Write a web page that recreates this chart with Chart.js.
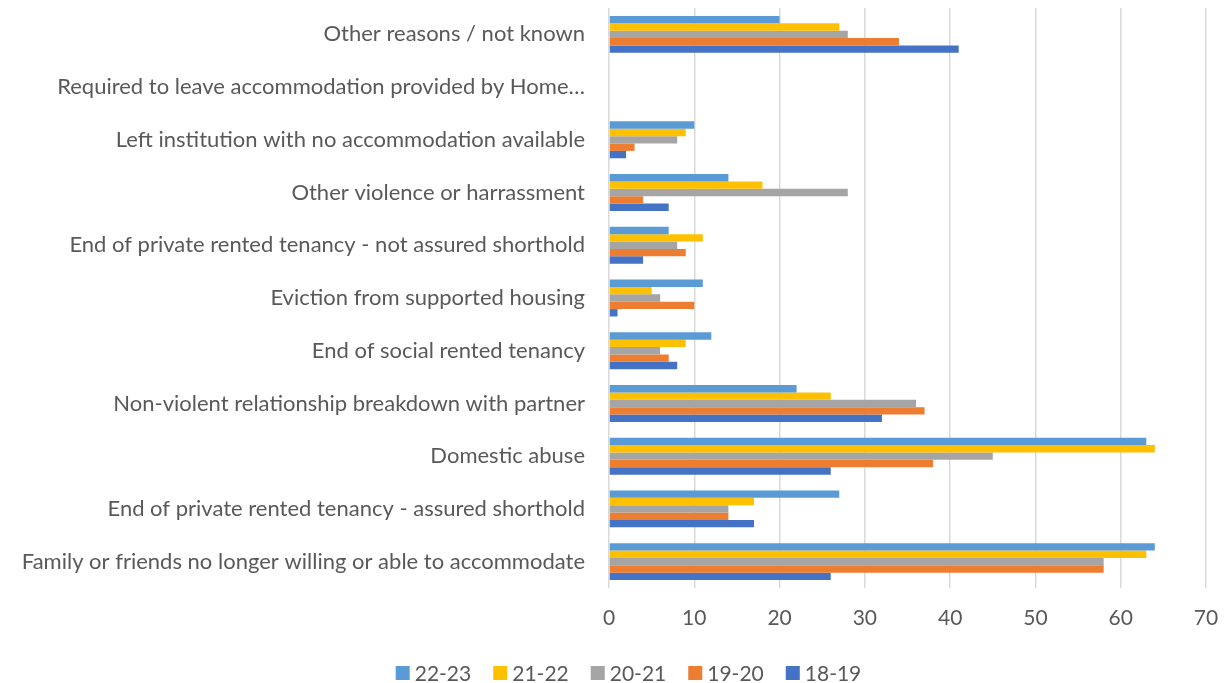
<!DOCTYPE html>
<html>
<head>
<meta charset="utf-8">
<script src="https://cdn.jsdelivr.net/npm/chart.js@4"></script>
<style>
  html, body { margin: 0; padding: 0; background: #fff; }
  #wrap { width: 1229px; height: 683px; }
</style>
</head>
<body>
<div id="wrap"><canvas id="myChart" width="1229" height="683"></canvas></div>
<script>
const categories = [
    'Other reasons / not known',
    'Required to leave accommodation provided by Home\u2026',
    'Left institution with no accommodation available',
    'Other violence or harrassment',
    'End of private rented tenancy - not assured shorthold',
    'Eviction from supported housing',
    'End of social rented tenancy',
    'Non-violent relationship breakdown with partner',
    'Domestic abuse',
    'End of private rented tenancy - assured shorthold',
    'Family or friends no longer willing or able to accommodate'
];

const seriesNames = ['22-23', '21-22', '20-21', '19-20', '18-19'];
const seriesColors = ['#5B9BD5', '#FFC000', '#A5A5A5', '#ED7D31', '#4472C4'];

const values2223 = [20, 0, 10, 14, 7, 11, 12, 22, 63, 27, 64];
const values2122 = [27, 0, 9, 18, 11, 5, 9, 26, 64, 17, 63];
const values2021 = [28, 0, 8, 28, 8, 6, 6, 36, 45, 14, 58];
const values1920 = [34, 0, 3, 4, 9, 10, 7, 37, 38, 14, 58];
const values1819 = [41, 0, 2, 7, 4, 1, 8, 32, 26, 17, 26];

const xTicks = [0, 10, 20, 30, 40, 50, 60, 70];

const allValues = [values2223, values2122, values2021, values1920, values1819];
const font = "'Lato', 'Open Sans', sans-serif";
const textColor = '#595959';

// Excel-style legend: small squares, wide gaps, sitting near the bottom edge
const bottomLegend = {
    id: 'bottomLegend',
    afterDraw(chart) {
        const c = chart.ctx;
        const sets = chart.data.datasets;
        const box = 14, gap = 5, spacing = 22;
        c.save();
        c.font = `21px ${font}`;
        c.textBaseline = 'middle';
        const widths = sets.map(ds => c.measureText(ds.label).width);
        const total = widths.reduce((s, w) => s + box + gap + w, 0) + spacing * (sets.length - 1);
        let x = (chart.width - total) / 2 + 14;
        const y = chart.height - 10;
        sets.forEach((ds, i) => {
            c.fillStyle = ds.backgroundColor;
            c.fillRect(x, y - box / 2, box, box);
            c.fillStyle = textColor;
            c.fillText(ds.label, x + box + gap, y + 1);
            x += box + gap + widths[i] + spacing;
        });
        c.restore();
    }
};

const ctx = document.getElementById('myChart');
new Chart(ctx, {
    type: 'bar',
    data: {
        labels: categories,
        datasets: seriesNames.map((name, i) => ({
            label: name,
            data: allValues[i],
            backgroundColor: seriesColors[i],
            borderWidth: 0,
            barPercentage: 1,
            categoryPercentage: 0.7
        }))
    },
    options: {
        indexAxis: 'y',
        responsive: false,
        animation: false,
        layout: {
            padding: { top: 8, right: 23, bottom: 51, left: 0 }
        },
        scales: {
            x: {
                min: xTicks[0],
                max: xTicks[xTicks.length - 1],
                afterBuildTicks: (scale) => {
                    scale.ticks = xTicks.map(v => ({ value: v }));
                },
                afterFit: (scale) => {
                    // chart.js counts tick padding twice here, keep it once
                    scale.height = scale.options.ticks.padding + 26;
                    scale.paddingLeft = 0;
                    scale.paddingRight = 0;
                },
                grid: {
                    color: '#D9D9D9',
                    lineWidth: 1.5,
                    drawTicks: false
                },
                border: { display: false },
                ticks: {
                    padding: 18,
                    color: textColor,
                    font: { family: font, size: 21 }
                }
            },
            y: {
                afterFit: (scale) => {
                    scale.width = 609;
                    scale.paddingTop = 0;
                    scale.paddingBottom = 0;
                },
                grid: { display: false, drawTicks: false },
                border: { display: false },
                ticks: {
                    padding: 24,
                    color: textColor,
                    autoSkip: false,
                    font: { family: font, size: 22 }
                }
            }
        },
        plugins: {
            legend: { display: false },
            tooltip: { enabled: false }
        }
    },
    plugins: [bottomLegend]
});
</script>
</body>
</html>
